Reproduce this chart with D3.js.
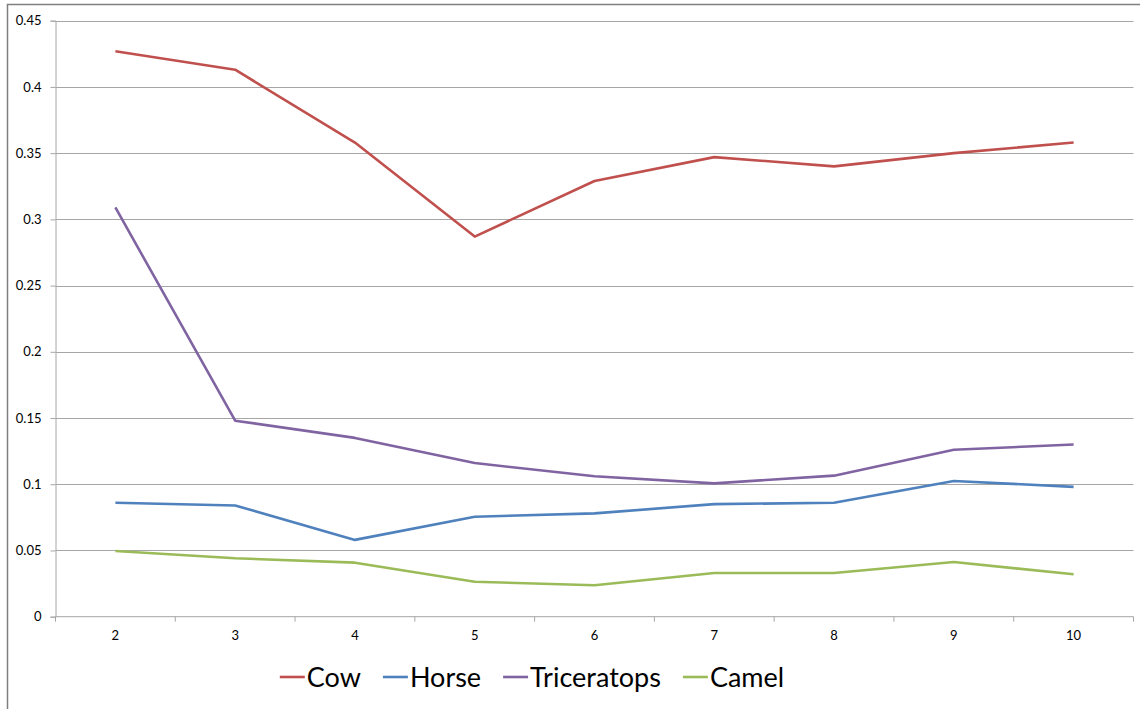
<!DOCTYPE html>
<html>
<head>
<meta charset="utf-8">
<script src="https://cdn.jsdelivr.net/npm/d3@7"></script>
<style>
  html, body { margin: 0; padding: 0; background: #fff; }
  svg { display: block; }
</style>
</head>
<body>
<svg id="chart" width="1140" height="709"></svg>
<script>
const categories = ["2", "3", "4", "5", "6", "7", "8", "9", "10"];
const seriesNames = ["Cow", "Horse", "Triceratops", "Camel"];
const cow = [0.427, 0.413, 0.358, 0.287, 0.329, 0.347, 0.340, 0.350, 0.358];
const horse = [0.086, 0.084, 0.058, 0.0755, 0.078, 0.085, 0.086, 0.1025, 0.098];
const triceratops = [0.309, 0.148, 0.135, 0.116, 0.106, 0.1007, 0.1065, 0.126, 0.130];
const camel = [0.0496, 0.0441, 0.0408, 0.0264, 0.0237, 0.033, 0.033, 0.0413, 0.032];
const yTicks = [0, 0.05, 0.1, 0.15, 0.2, 0.25, 0.3, 0.35, 0.4, 0.45];
const colors = ["#C0504D", "#4F81BD", "#8064A2", "#9BBB59"];

const seriesValues = [cow, horse, triceratops, camel];

const svg = d3.select("#chart");
const font = "Lato, 'Open Sans', sans-serif";

// outer chart border (extends past right/bottom edge)
svg.append("rect")
  .attr("x", 7.5).attr("y", 4.5)
  .attr("width", 1200).attr("height", 800)
  .attr("fill", "none").attr("stroke", "#7f7f7f").attr("stroke-width", 1.5);

const plot = { left: 55.5, right: 1133.5, top: 20.7, bottom: 616.7 };

const x = d3.scaleBand().domain(categories).range([plot.left, plot.right]).padding(0);
const y = d3.scaleLinear().domain([0, 0.45]).range([plot.bottom, plot.top]);

// gridlines
svg.append("g").selectAll("line")
  .data(yTicks.filter(d => d > 0))
  .join("line")
  .attr("x1", plot.left).attr("x2", plot.right)
  .attr("y1", d => Math.round(y(d)) + 0.5).attr("y2", d => Math.round(y(d)) + 0.5)
  .attr("stroke", "#A6A6A6").attr("stroke-width", 1);

// y axis
const yAxis = d3.axisLeft(y).tickValues(yTicks).tickSize(5).tickPadding(9)
  .tickFormat(d => d3.format("")(+d.toFixed(2)));
const gy = svg.append("g").attr("transform", `translate(${plot.left},0)`).call(yAxis);
gy.select(".domain").attr("stroke", "#A6A6A6");
gy.selectAll(".tick line").attr("stroke", "#A6A6A6");
gy.selectAll(".tick text").attr("font-family", font).attr("font-size", 13).attr("fill", "#000");

// x axis: ticks between categories
const gx = svg.append("g").attr("transform", `translate(0,${plot.bottom})`);
gx.append("line").attr("x1", plot.left).attr("x2", plot.right).attr("y1", 0).attr("y2", 0)
  .attr("stroke", "#A6A6A6");
const bounds = categories.map(c => x(c)).concat([x(categories[categories.length - 1]) + x.bandwidth()]);
gx.selectAll("line.tk").data(bounds).join("line").attr("class", "tk")
  .attr("x1", d => d).attr("x2", d => d).attr("y1", 0).attr("y2", 5)
  .attr("stroke", "#A6A6A6");
gx.selectAll("text").data(categories).join("text")
  .attr("x", d => x(d) + x.bandwidth() / 2)
  .attr("y", 23)
  .attr("text-anchor", "middle")
  .attr("font-family", font).attr("font-size", 13).attr("fill", "#000")
  .text(d => d);

// lines
const line = d3.line()
  .x((d, i) => x(categories[i]) + x.bandwidth() / 2)
  .y(d => y(d));
svg.append("g").selectAll("path")
  .data(seriesValues)
  .join("path")
  .attr("d", d => line(d))
  .attr("fill", "none")
  .attr("stroke", (d, i) => colors[i])
  .attr("stroke-width", 2.6)
  .attr("stroke-linejoin", "round");

// legend
const legend = svg.append("g");
const items = legend.selectAll("g").data(seriesNames).join("g");
items.append("line").attr("x1", 0).attr("x2", 25).attr("y1", 0).attr("y2", 0)
  .attr("stroke", (d, i) => colors[i]).attr("stroke-width", 2.6);
items.append("text").attr("x", 27).attr("y", 10)
  .attr("font-family", font).attr("font-size", 27).attr("fill", "#000")
  .text(d => d);
let widths = [];
items.each(function () { widths.push(this.getBBox().width); });
const gap = 22;
const total = d3.sum(widths) + gap * (widths.length - 1);
let cx = 532 - total / 2;
items.attr("transform", (d, i) => {
  const t = `translate(${cx},677)`;
  cx += widths[i] + gap;
  return t;
});
</script>
</body>
</html>
